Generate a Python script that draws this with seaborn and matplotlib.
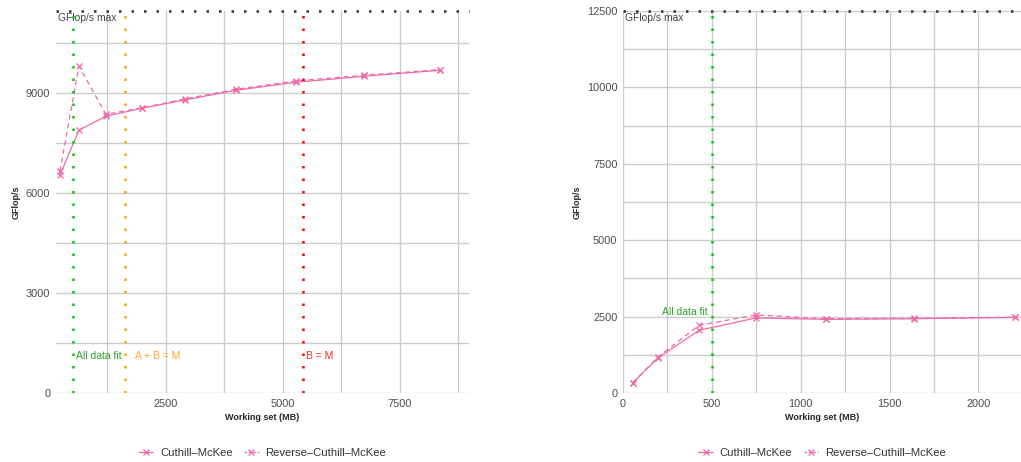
import numpy as np
import pandas as pd
import matplotlib
matplotlib.use("Agg")
import matplotlib.pyplot as plt
from matplotlib.lines import Line2D
from matplotlib.ticker import MultipleLocator
import seaborn as sns

# machine A (left) - working set in MB, GFlop/s
ws_left = [235, 641, 1218, 1987, 2906, 3996, 5278, 6731, 8355]
cm_left = [6540, 7890, 8310, 8550, 8800, 9090, 9330, 9510, 9690]
rcm_left = [6660, 9810, 8370, 8560, 8830, 9120, 9370, 9540, 9710]
max_left = 11470
vlines_left = [513, 1624, 5427]
vlabels_left = ["All data fit", "A + B = M", "B = M"]

# machine B (right)
ws_right = [56, 195, 428, 749, 1141, 1635, 2207]
cm_right = [339, 1140, 2050, 2455, 2410, 2430, 2475]
rcm_right = [339, 1165, 2215, 2555, 2430, 2440, 2480]
max_right = 12500
vlines_right = [500]
vlabels_right = ["All data fit"]

series_names = ["Cuthill–McKee", "Reverse–Cuthill–McKee"]

line_colors = {"All data fit": "#00cc00", "A + B = M": "#ffa500", "B = M": "#ff0000"}
text_colors = {"All data fit": "#2ca02c", "A + B = M": "#ffa726", "B = M": "#ff2a2a"}
pink = "#ee6aa7"
dash_map = {series_names[0]: "", series_names[1]: (4, 3)}

sns.set_theme(style="white")
plt.rcParams["font.family"] = ["Liberation Sans", "DejaVu Sans"]


def to_long(ws, cm, rcm):
    return pd.concat([
        pd.DataFrame({"ws": ws, "gf": cm, "kind": series_names[0]}),
        pd.DataFrame({"ws": ws, "gf": rcm, "kind": series_names[1]}),
    ])


def draw_panel(ax, df, gmax, vlines, vlabels, xlim, xmajor, ymajor, right_label=False, label_y=1100):
    ax.xaxis.set_major_locator(MultipleLocator(xmajor))
    ax.xaxis.set_minor_locator(MultipleLocator(xmajor / 2))
    ax.yaxis.set_major_locator(MultipleLocator(ymajor))
    ax.yaxis.set_minor_locator(MultipleLocator(ymajor / 2))
    ax.grid(True, which="both", color="#cccccc", lw=1.0, zorder=0)
    ax.set_axisbelow(True)

    n_before = len(ax.lines)
    sns.lineplot(data=df, x="ws", y="gf", hue="kind", style="kind",
                 palette={series_names[0]: pink, series_names[1]: pink},
                 dashes=dash_map, markers=False,
                 ax=ax, lw=0.9, zorder=3, legend=False)
    for l in ax.lines[n_before:]:
        l.set_marker("x")
        l.set_markersize(5)
        l.set_markeredgewidth(0.9)
        l.set_markeredgecolor(pink)

    ax.axhline(gmax, color="#333333", lw=1.8, ls=(0, (1, 4)), dash_capstyle="butt",
               zorder=4, clip_on=False)
    ax.text(xlim[0] + (xlim[1] - xlim[0]) * 0.005, gmax * 0.995, "GFlop/s max",
            ha="left", va="top", fontsize=7.4, color="#444444")

    for x, lab in zip(vlines, vlabels):
        ax.axvline(x, color=line_colors[lab], lw=1.8, ls=(0, (1, 4)), dash_capstyle="butt", zorder=4)
        if right_label:
            ax.annotate(lab, (x, label_y), xytext=(-3, 0), textcoords="offset points",
                        ha="right", va="center", fontsize=7.5, color=text_colors[lab])
        else:
            off = 7 if lab == "A + B = M" else 2.5
            ax.annotate(lab, (x, label_y), xytext=(off, 0), textcoords="offset points",
                        ha="left", va="center", fontsize=7.5, color=text_colors[lab])

    ax.set_xlim(*xlim)
    ax.set_ylim(0, gmax)
    ax.tick_params(axis="both", which="both", length=0, labelsize=7.9,
                   labelcolor="#4d4d4d", pad=4)
    for s in ax.spines.values():
        s.set_visible(False)
    ax.set_xlabel("Working set (MB)", fontsize=6.5, fontweight="bold", labelpad=3)
    ax.set_ylabel("GFlop/s", fontsize=6.5, fontweight="bold", labelpad=4)

    handles = [Line2D([], [], color=pink, lw=0.9, ls="-" if dash_map[n] == "" else (0, (2, 1.5)),
                      marker="x", markersize=5, markeredgewidth=0.9)
               for n in series_names]
    ax.legend(handles, series_names, loc="upper center", bbox_to_anchor=(0.5, -0.118), ncol=2,
              frameon=False, fontsize=8.1, handlelength=1.3, columnspacing=1.0,
              handletextpad=0.6, labelcolor="#333333")


fig = plt.figure(figsize=(10.21, 4.62), dpi=100)
ax1 = fig.add_axes([0.0548, 0.1494, 0.4045, 0.8268])
ax2 = fig.add_axes([0.6102, 0.1494, 0.3898, 0.8268])

draw_panel(ax1, to_long(ws_left, cm_left, rcm_left), max_left, vlines_left, vlabels_left,
           (150, 8975), 2500, 3000, label_y=1100)
draw_panel(ax2, to_long(ws_right, cm_right, rcm_right), max_right, vlines_right, vlabels_right,
           (0, 2240), 500, 2500, right_label=True, label_y=2660)

fig.savefig("out.png", dpi=100)
